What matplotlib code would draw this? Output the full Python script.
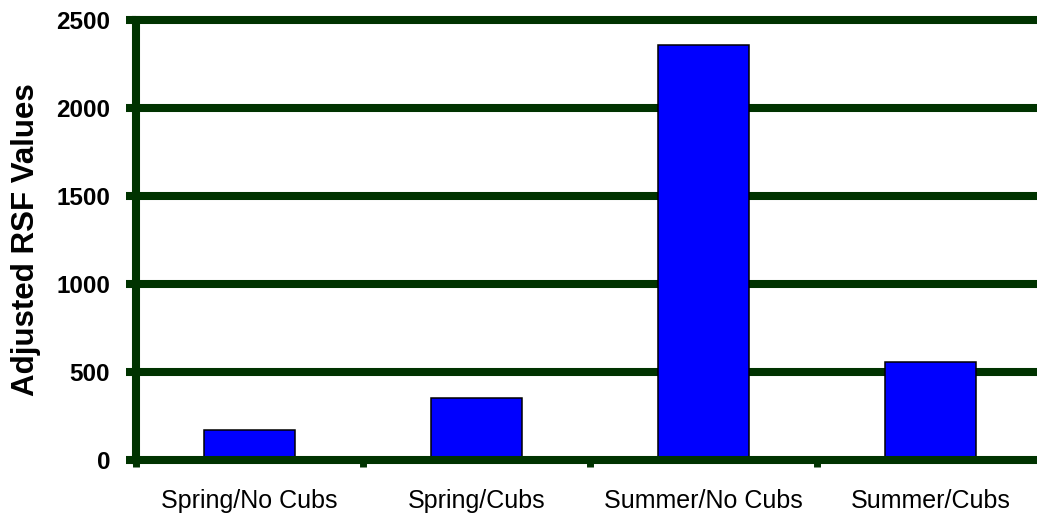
import matplotlib

matplotlib.use("Agg")
import matplotlib.pyplot as plt
import numpy as np

# values
categories = ["Spring/No Cubs", "Spring/Cubs", "Summer/No Cubs", "Summer/Cubs"]
rsf_values = [170, 350, 2360, 555]
y_ticks = [0, 500, 1000, 1500, 2000, 2500]

GREEN = "#003300"
LW = 5.8  # ~8 px at 100 dpi

plt.rcParams["font.family"] = ["Liberation Sans", "DejaVu Sans"]

fig = plt.figure(figsize=(10.37, 5.17), dpi=100)
ax = fig.add_axes([136 / 1037, 57 / 517, 908 / 1037, 440 / 517])

x = np.arange(len(categories))
ax.bar(x, rsf_values, width=0.4, color="#0000ff", edgecolor="black", linewidth=1.1, zorder=3)

for yv in y_ticks:
    ax.axhline(yv, color=GREEN, linewidth=LW, clip_on=False, zorder=5 if yv == 0 else 1)

ax.set_xlim(-0.5, len(categories) - 0.5)
ax.set_ylim(0, 2500)

for side in ("top", "right", "bottom"):
    ax.spines[side].set_visible(False)
ax.spines["left"].set_color(GREEN)
ax.spines["left"].set_linewidth(LW)
ax.spines["left"].set_zorder(6)

ax.set_yticks(y_ticks)
ax.set_yticklabels([str(v) for v in y_ticks], fontsize=17.5, fontweight="bold")
ax.tick_params(axis="y", direction="out", length=7.2, width=LW, color=GREEN, pad=11.5)

ax.set_xticks(np.arange(len(categories) + 1) - 0.5)
ax.set_xticklabels([])
ax.tick_params(axis="x", which="major", direction="out", length=5, width=5, color=GREEN)
ax.set_xticks(x, minor=True)
ax.set_xticklabels(categories, minor=True, fontsize=18)
ax.tick_params(axis="x", which="minor", length=0, pad=21)

ax.set_ylabel("Adjusted RSF Values", fontsize=22.5, fontweight="bold", labelpad=11)

fig.savefig("out.png", dpi=100)
